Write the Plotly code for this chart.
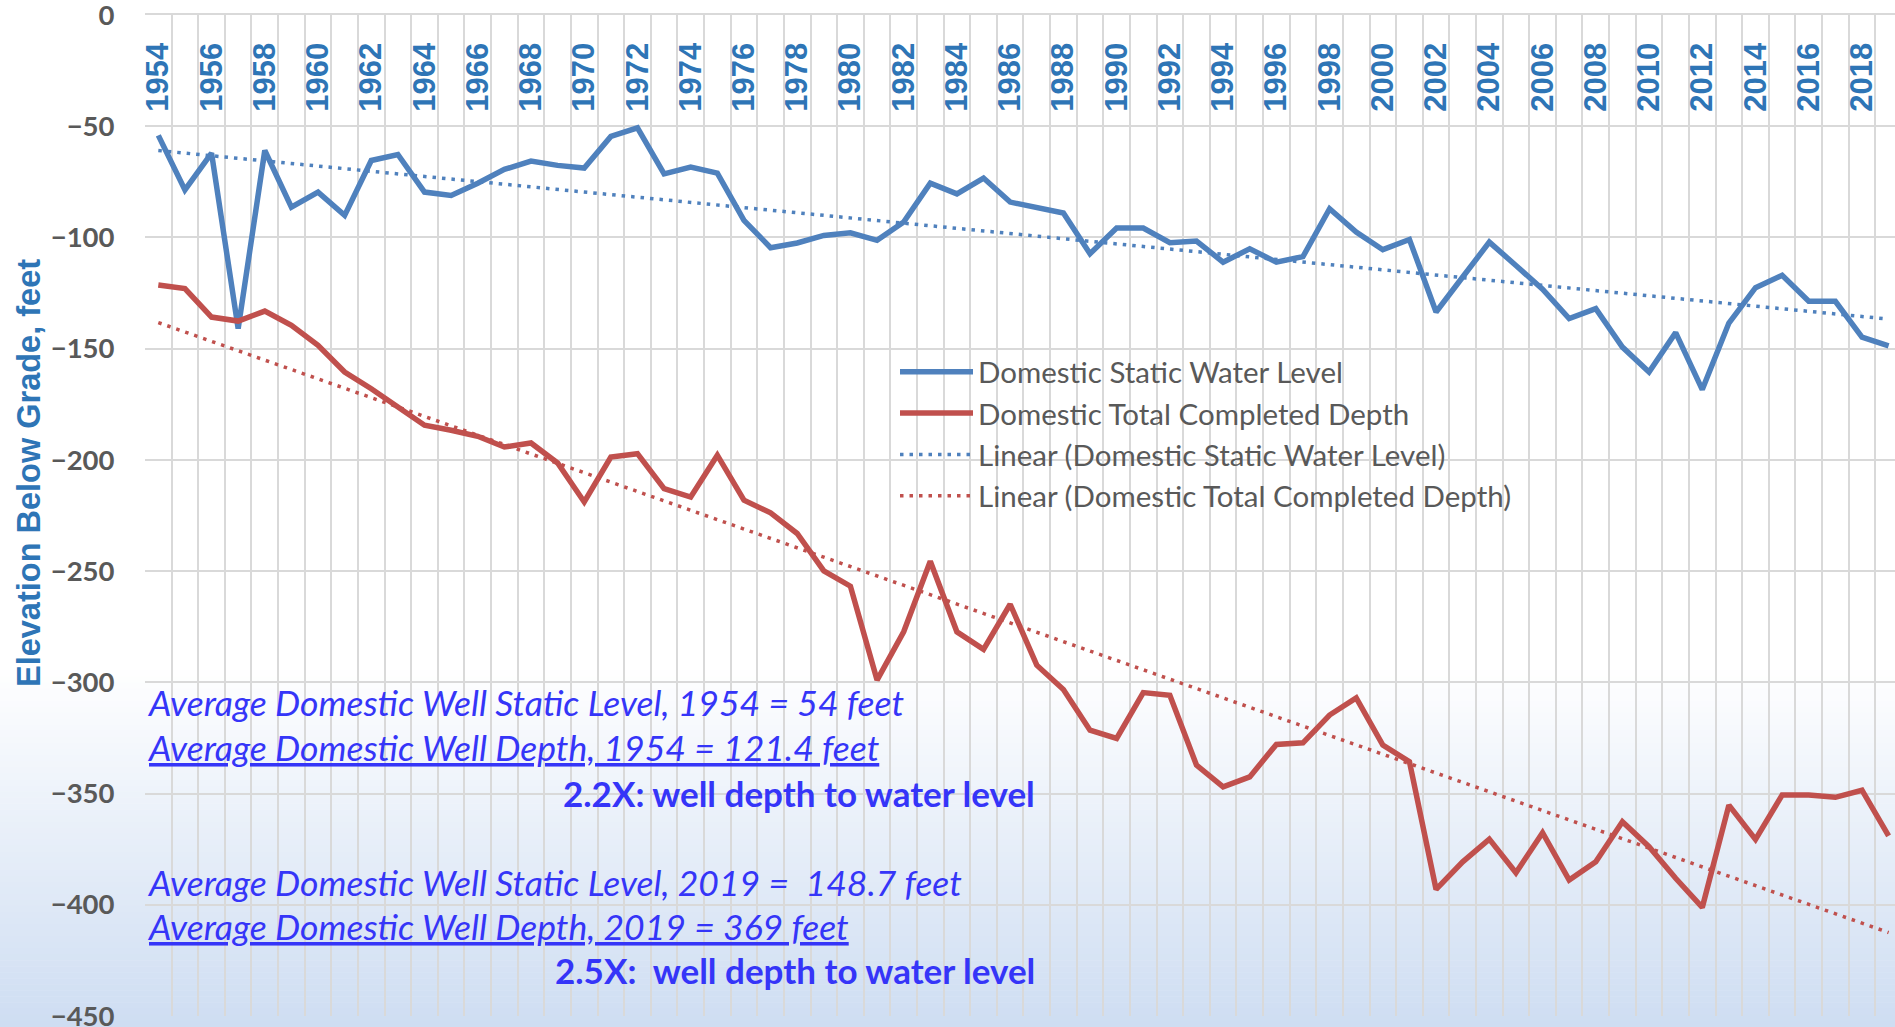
import numpy as np
import plotly.graph_objects as go

years = list(range(1954, 2020))

static_level = [
    -54.1, -78.6, -62.1, -141.0, -60.9, -86.4, -79.6, -90.1, -65.4, -62.7,
    -79.6, -81.1, -75.6, -69.4, -65.7, -67.6, -68.8, -54.6, -50.7, -71.4,
    -68.4, -71.1, -92.3, -104.6, -102.5, -99.1, -97.9, -101.3, -93.1, -75.6,
    -80.4, -73.3, -84.1, -86.3, -89.0, -107.3, -95.8, -95.8, -102.4, -101.6,
    -111.1, -105.1, -111.1, -108.6, -87.1, -97.6, -105.5, -100.9, -133.5, -117.8,
    -102.1, -112.6, -123.3, -136.5, -132.0, -149.3, -160.5, -142.8, -168.4, -138.5,
    -122.6, -117.0, -128.7, -128.7, -144.8, -148.7,
]

total_depth = [
    -121.4, -123.0, -135.8, -137.6, -133.1, -139.5, -148.5, -160.5, -168.0, -176.2,
    -184.4, -186.7, -189.4, -194.2, -192.4, -201.4, -218.9, -198.7, -197.2, -212.9,
    -216.7, -197.9, -218.1, -223.8, -233.1, -249.9, -256.8, -299.0, -277.3, -245.6,
    -277.3, -285.2, -264.9, -292.3, -303.2, -321.5, -325.2, -304.6, -305.8, -337.2,
    -347.0, -342.5, -327.9, -327.2, -314.7, -307.0, -328.2, -335.7, -393.1, -380.7,
    -370.5, -385.6, -367.6, -388.9, -380.7, -362.7, -373.9, -388.1, -401.2, -355.2,
    -370.6, -350.7, -350.7, -351.7, -348.5, -369.0,
]

year_tick_labels = [str(y) for y in range(1954, 2019, 2)]
y_tick_values = list(range(0, -451, -50))

names = [
    "Domestic Static Water Level",
    "Domestic Total Completed Depth",
    "Linear (Domestic Static Water Level)",
    "Linear (Domestic Total Completed Depth)",
]

notes_left = [
    ("<i>Average Domestic Well Static Level, 1954 = 54 feet</i>", -308.9),
    ("<i><u>Average Domestic Well Depth, 1954 = 121.4 feet</u></i>", -329.1),
    ("<i>Average Domestic Well Static Level, 2019 =  148.7 feet</i>", -389.8),
    ("<i><u>Average Domestic Well Depth, 2019 = 369 feet</u></i>", -409.6),
]
notes_bold = [
    ("<b>2.2X: well depth to water level</b>", -349.8),
    ("<b>2.5X:  well depth to water level</b>", -429.3),
]

BLUE = "#4F81BD"
RED = "#C0504D"
GRID = "#D9D9D9"
AXIS_BLUE = "#2E75B6"
NOTE_BLUE = "#3535F8"

# page geometry (body margin removed by post_script, so figure == page)
PAGE_W, PAGE_H = 1895, 1027
W, H = PAGE_W, PAGE_H
PL, PT, PB, PR = 145, 15, 1016, 1895       # plot area in page px
ML, MT, MB, MR = PL, PT, PAGE_H - PB, 0
PW = PR - PL
PH = PB - PT


def px_x(p):
    return (p - PL) / PW


def px_y(p):
    return (PB - p) / PH


x_arr = np.array(years, dtype=float)
fit_s = np.polyfit(x_arr, np.array(static_level), 1)
fit_d = np.polyfit(x_arr, np.array(total_depth), 1)
trend_s = np.polyval(fit_s, x_arr)
trend_d = np.polyval(fit_d, x_arr)

fig = go.Figure()
fig.add_trace(go.Scatter(x=years, y=static_level, mode="lines", name=names[0],
                         line=dict(color=BLUE, width=5.5), legendgroup="a"))
fig.add_trace(go.Scatter(x=years, y=total_depth, mode="lines", name=names[1],
                         line=dict(color=RED, width=5.5), legendgroup="b"))
fig.add_trace(go.Scatter(x=years, y=trend_s, mode="lines", name=names[2],
                         line=dict(color=BLUE, width=3.5, dash="3.5px,6px"), legendgroup="c"))
fig.add_trace(go.Scatter(x=years, y=trend_d, mode="lines", name=names[3],
                         line=dict(color=RED, width=3.5, dash="3.5px,6px"), legendgroup="d"))

# gradient background (white -> light blue) over the lower part of the chart area
shapes = []
g_top, g_bot = 665, PAGE_H
n = 60
c0 = np.array([255, 255, 255])
c1 = np.array([206, 221, 242])
for i in range(n):
    ya = g_top + (g_bot - g_top) * i / n
    yb = g_top + (g_bot - g_top) * (i + 1) / n
    f = (i + 0.5) / n
    c = (c0 + (c1 - c0) * f).round().astype(int)
    shapes.append(dict(type="rect", xref="paper", yref="paper", layer="below",
                       x0=px_x(0) - 0.01, x1=1.01,
                       y0=px_y(yb), y1=px_y(ya) + 0.0005,
                       line=dict(width=0), fillcolor=f"rgb({c[0]},{c[1]},{c[2]})"))

annotations = []
for txt, yv in notes_left:
    annotations.append(dict(x=1953.5, y=yv, xref="x", yref="y", text=txt, showarrow=False,
                            xanchor="left", yanchor="middle",
                            font=dict(family="Lato", size=35.5, color=NOTE_BLUE)))
for txt, yv in notes_bold:
    annotations.append(dict(x=1987.0, y=yv, xref="x", yref="y", text=txt, showarrow=False,
                            xanchor="right", yanchor="middle",
                            font=dict(family="Lato", size=35, color=NOTE_BLUE)))
annotations.append(dict(x=px_x(29), y=px_y(473), xref="paper", yref="paper",
                        text="<b>Elevation Below Grade, feet</b>", textangle=-90, showarrow=False,
                        xanchor="center", yanchor="middle",
                        font=dict(family="Liberation Sans", size=32.5, color=AXIS_BLUE)))

fig.update_layout(
    width=W, height=H,
    margin=dict(l=ML, r=MR, t=MT, b=MB, pad=0),
    paper_bgcolor="white",
    plot_bgcolor="rgba(0,0,0,0)",
    shapes=shapes,
    annotations=annotations,
    showlegend=True,
    legend=dict(x=px_x(895), y=px_y(346), xanchor="left", yanchor="top",
                bgcolor="rgba(0,0,0,0)", traceorder="grouped", tracegroupgap=0,
                itemwidth=73,
                font=dict(family="Lato", size=29.5, color="#595959")),
    xaxis=dict(
        range=[1953.5, 2019.24], side="top",
        tickvals=list(range(1954, 2019, 2)), ticktext=year_tick_labels,
        tickangle=-90, ticklabelposition="inside", ticklabeloverflow="allow",
        ticks="inside", ticklen=14, tickcolor="rgba(0,0,0,0)",
        tickfont=dict(family="Liberation Sans", size=31, color=AXIS_BLUE, weight="bold"),
        showgrid=False, zeroline=False, showline=True, linecolor=GRID, linewidth=2,
        minor=dict(tick0=1953.5, dtick=1, showgrid=True, gridcolor=GRID, gridwidth=2, ticks=""),
        automargin=False,
    ),
    yaxis=dict(
        range=[-450, 0], tickvals=y_tick_values, ticklabeloverflow="allow",
        tickfont=dict(family="Lato", size=27.5, color="#595959", weight="bold"),
        ticks="outside", ticklen=24, tickcolor="rgba(0,0,0,0)",
        showgrid=True, gridcolor=GRID, gridwidth=2, zeroline=False,
        automargin=False,
    ),
)

fig.write_html("out.html",
               config={"displayModeBar": False},
               post_script="document.body.style.margin='0';document.body.style.overflow='hidden';")
